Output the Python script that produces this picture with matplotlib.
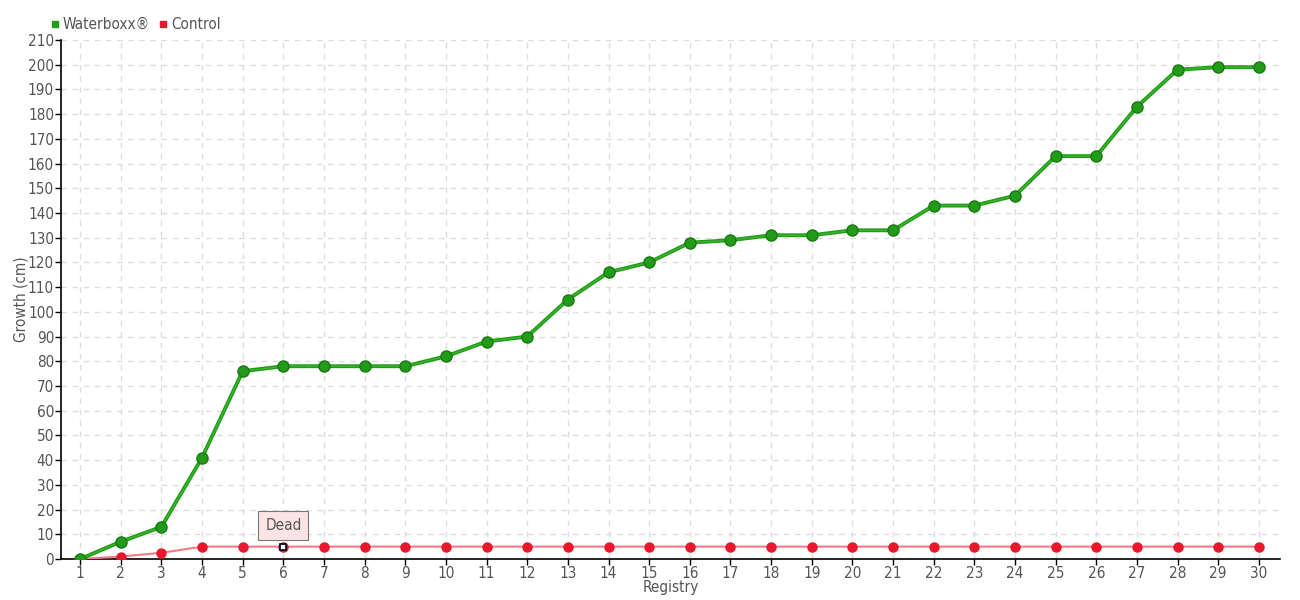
import matplotlib
matplotlib.use("Agg")
import matplotlib.pyplot as plt
from matplotlib.lines import Line2D

registry = list(range(1, 31))
waterboxx = [0, 7, 13, 41, 76, 78, 78, 78, 78, 82, 88, 90, 105, 116, 120, 128, 129, 131,
             131, 133, 133, 143, 143, 147, 163, 163, 183, 198, 199, 199]
control = [0, 1, 2.5, 5, 5, 5, 5, 5, 5, 5, 5, 5, 5, 5, 5, 5, 5, 5, 5, 5, 5, 5, 5, 5, 5,
           5, 5, 5, 5, 5]
series_names = ["Waterboxx®", "Control"]
dead_index = 5  # registry 6
dead_label = "Dead"
y_ticks = list(range(0, 211, 10))

plt.rcParams['font.family'] = ['DejaVu Sans']
plt.rcParams['font.stretch'] = 'condensed'
txt = '#555555'

fig = plt.figure(figsize=(13, 6), dpi=100)
ax = fig.add_axes([61/1300, 41/600, (1280-61)/1300, (559-40)/600])

green = '#1e9e14'
red = '#e8172b'

ax.plot(registry, control, color='#f47a88', lw=1.5, zorder=3)
ax.plot(registry, control, 'o', ms=6.5, color=red, mec=red, zorder=4)
ax.plot(registry, waterboxx, color=green, lw=2.8, zorder=5)
ax.plot(registry, waterboxx, color='#5cc24f', lw=0.8, zorder=5, alpha=0.6)
ax.plot(registry, waterboxx, 'o', ms=8, color='#229b18', mec='#187a10', mew=1, zorder=6)

# dead marker
ax.plot(registry[dead_index], control[dead_index], 's', ms=4.5, mfc='white', mec='black', mew=1.2, zorder=8)
ax.annotate(dead_label, (registry[dead_index], control[dead_index]), xytext=(0, 15),
            textcoords='offset points', ha='center', va='center', fontsize=11, color=txt,
            bbox=dict(boxstyle='square,pad=0.45', fc='#fde4e4', ec='#777777', lw=0.8),
            zorder=9)

ax.set_xlim(0.53, 30.52)
ax.set_ylim(0, 210)
ax.set_xticks(registry)
ax.set_yticks(y_ticks)
ax.tick_params(labelsize=11, length=4, width=1, direction='out', color='black',
               labelcolor=txt)
ax.tick_params(axis='x', pad=1)
ax.tick_params(axis='y', pad=1)

ax.grid(True, color='#dddddd', ls=(0, (4, 4)), lw=1)
ax.set_axisbelow(True)
for s in ['top', 'right']:
    ax.spines[s].set_visible(False)
ax.spines['left'].set_linewidth(1.2)
ax.spines['bottom'].set_linewidth(1.2)

ax.set_xlabel("Registry", color=txt, fontsize=11, labelpad=-1)
ax.set_ylabel("Growth (cm)", color=txt, fontsize=11)
ax.yaxis.set_label_coords(-0.027, 0.5)

handles = [Line2D([], [], marker='s', ls='', color=green, ms=5),
           Line2D([], [], marker='s', ls='', color=red, ms=5)]
fig.legend(handles, series_names, loc='upper left', bbox_to_anchor=(44/1300, 1 - 11/600),
           ncol=2, frameon=False, fontsize=11, handlelength=0.6, handletextpad=0.2,
           columnspacing=0.6, borderaxespad=0, labelcolor=txt)

fig.savefig("out.png", dpi=100)
